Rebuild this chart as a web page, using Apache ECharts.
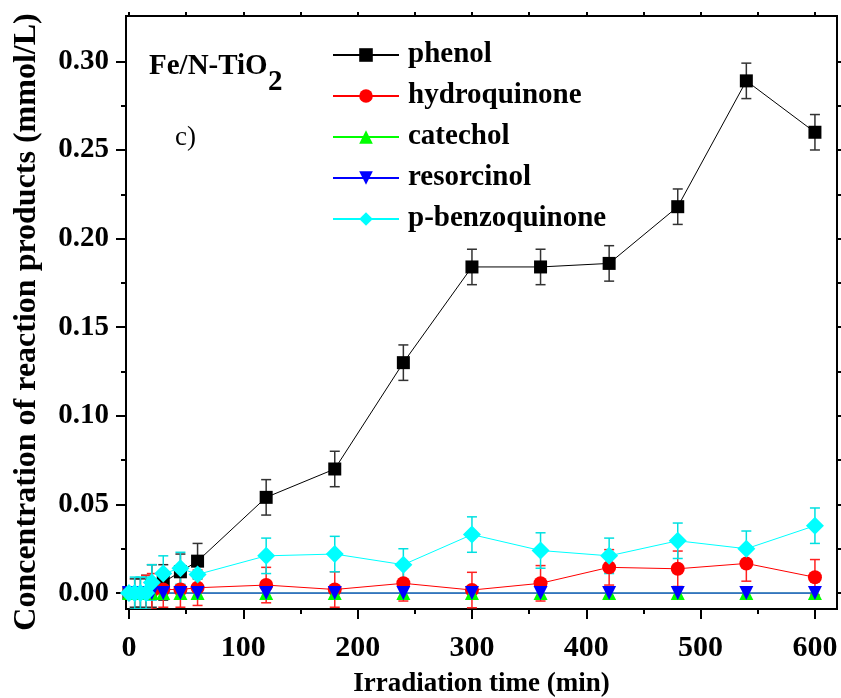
<!DOCTYPE html>
<html>
<head>
<meta charset="utf-8">
<script src="https://cdn.jsdelivr.net/npm/echarts@6/dist/echarts.min.js"></script>
<style>html,body{margin:0;padding:0;background:#fff}#c{width:841px;height:698px}</style>
</head>
<body>
<div id="c"></div>
<script>
// ---- data ----
const times = [0, 5, 10, 15, 20, 30, 45, 60, 120, 180, 240, 300, 360, 420, 480, 540, 600];
const phenol        = [0, 0, 0, 0, 0.004, 0.006, 0.012, 0.018, 0.054, 0.070, 0.130, 0.184, 0.184, 0.186, 0.218, 0.289, 0.260];
const phenolErr     = [0, 0.008, 0.008, 0.010, 0.012, 0.010, 0.010, 0.010, 0.010, 0.010, 0.010, 0.010, 0.010, 0.010, 0.010, 0.010, 0.010];
const hydroquinone  = [0, 0, 0, 0, 0.001, 0.002, 0.002, 0.003, 0.0045, 0.002, 0.0055, 0.0017, 0.0055, 0.0145, 0.0137, 0.0167, 0.0089];
const hydroErr      = [0, 0, 0, 0.010, 0.010, 0.010, 0.010, 0.010, 0.010, 0.010, 0.010, 0.010, 0.010, 0.010, 0.010, 0.010, 0.010];
const catechol      = [0, 0, 0, 0, 0, 0, 0, 0, 0, 0, 0, 0, 0, 0, 0, 0, 0];
const resorcinol    = [0, 0, 0, 0, 0, 0, 0, 0, 0, 0, 0, 0, 0, 0, 0, 0, 0];
const pBenzoquinone = [0, 0, 0, 0, 0.006, 0.011, 0.014, 0.0105, 0.021, 0.022, 0.016, 0.033, 0.024, 0.021, 0.0295, 0.025, 0.038];
const pBenzoErr     = [0, 0.009, 0.009, 0.009, 0.010, 0.010, 0.009, 0.009, 0.010, 0.010, 0.009, 0.010, 0.010, 0.010, 0.010, 0.010, 0.010];
const xTicks = [0, 100, 200, 300, 400, 500, 600];
const xMinorTicks = [50, 150, 250, 350, 450, 550];
const yTicks = [0, 0.05, 0.10, 0.15, 0.20, 0.25, 0.30];
const yMinorTicks = [0.025, 0.075, 0.125, 0.175, 0.225, 0.275];
const seriesNames = ['phenol', 'hydroquinone', 'catechol', 'resorcinol', 'p-benzoquinone'];

const FONT = "'Liberation Serif', 'Times New Roman', serif";
const X_MIN = -2.6, X_MAX = 619.3, Y_MIN = -0.009, Y_MAX = 0.3256;
const xAll = xTicks.concat(xMinorTicks);
const yAll = yTicks.concat(yMinorTicks);

function pairs(vals) { return times.map((t, i) => [t, vals[i]]); }
function triples(vals, errs) { return times.map((t, i) => [t, vals[i], errs[i]]); }

function errorSeries(name, vals, errs, color) {
  return {
    type: 'custom', name: name, xAxisIndex: 0, yAxisIndex: 0, z: 1, clip: true,
    silent: true,
    data: triples(vals, errs),
    encode: { x: 0, y: 1 },
    renderItem: function (params, api) {
      const x = api.value(0), y = api.value(1), e = api.value(2);
      if (!e) return null;
      const top = api.coord([x, y + e]);
      const bot = api.coord([x, y - e]);
      const w = 5;
      const st = { stroke: color, lineWidth: 1.5 };
      return {
        type: 'group',
        children: [
          { type: 'line', shape: { x1: top[0], y1: top[1], x2: bot[0], y2: bot[1] }, style: st },
          { type: 'line', shape: { x1: top[0] - w, y1: top[1], x2: top[0] + w, y2: top[1] }, style: st },
          { type: 'line', shape: { x1: bot[0] - w, y1: bot[1], x2: bot[0] + w, y2: bot[1] }, style: st }
        ]
      };
    }
  };
}

function lineSeries(name, vals, color, symbol, size) {
  return {
    type: 'line', name: name, xAxisIndex: 0, yAxisIndex: 0, z: 3,
    data: pairs(vals),
    symbol: symbol, symbolSize: size, showAllSymbol: true,
    lineStyle: { color: color, width: 1 },
    itemStyle: { color: color },
    emphasis: { disabled: true },
    animation: false
  };
}

function tickAxis(pos, min, max, values, len) {
  return {
    type: 'value', position: pos, min: min, max: max,
    axisLine: { show: false, onZero: false }, splitLine: { show: false },
    axisTick: { show: true, inside: false, length: len, customValues: values, lineStyle: { color: '#000', width: 2 } },
    axisLabel: { show: false }
  };
}

const chart = echarts.init(document.getElementById('c'), null, { renderer: 'canvas' });
const option = {
  animation: false,
  backgroundColor: '#fff',
  grid: { left: 126, right: 4, top: 16, bottom: 89, outerBoundsMode: 'none', containLabel: false,
          show: true, borderColor: '#000', borderWidth: 2, backgroundColor: 'transparent' },
  legend: {
    data: seriesNames, orient: 'vertical', left: 332, top: 40, padding: 0,
    itemWidth: 66, itemHeight: 17, itemGap: 11,
    textStyle: { fontFamily: FONT, fontWeight: 'bold', fontSize: 29, color: '#000', lineHeight: 30, padding: [0, 0, 0, 4] },
    selectedMode: false
  },
  xAxis: [
    {
      type: 'value', position: 'bottom', min: X_MIN, max: X_MAX,
      axisLine: { show: false, onZero: false }, splitLine: { show: false },
      axisTick: { show: true, inside: false, length: 10, customValues: xTicks, lineStyle: { color: '#000', width: 2 } },
      axisLabel: { customValues: xTicks, margin: 24, fontFamily: FONT, fontWeight: 'bold', fontSize: 30, color: '#000' },
      name: 'Irradiation time (min)', nameLocation: 'middle', nameGap: 62,
      nameTextStyle: { fontFamily: FONT, fontWeight: 'bold', fontSize: 27, color: '#000' }
    },
    tickAxis('bottom', X_MIN, X_MAX, xMinorTicks, 5),
    tickAxis('top', X_MIN, X_MAX, xAll, 4)
  ],
  yAxis: [
    {
      type: 'value', position: 'left', min: Y_MIN, max: Y_MAX,
      axisLine: { show: false, onZero: false }, splitLine: { show: false },
      axisTick: { show: true, inside: false, length: 10, customValues: yTicks, lineStyle: { color: '#000', width: 2 } },
      axisLabel: { customValues: yTicks, margin: 17, fontFamily: FONT, fontWeight: 'bold', fontSize: 29, color: '#000',
                   formatter: v => v.toFixed(2) }
    },
    tickAxis('left', Y_MIN, Y_MAX, yMinorTicks, 5),
    tickAxis('right', Y_MIN, Y_MAX, yAll, 4)
  ],
  graphic: [
    { type: 'text', x: 27, y: 322, rotation: Math.PI / 2,
      style: { text: 'Concentration of reaction products (mmol/L)', align: 'center', verticalAlign: 'middle',
               fontFamily: FONT, fontWeight: 'bold', fontSize: 32, fill: '#000' } },
    { type: 'text', left: 149, top: 52, style: { text: 'Fe/N-TiO', fontFamily: FONT, fontWeight: 'bold', fontSize: 29, fill: '#000' } },
    { type: 'text', left: 268, top: 68, style: { text: '2', fontFamily: FONT, fontWeight: 'bold', fontSize: 29, fill: '#000' } },
    { type: 'text', left: 175, top: 124, style: { text: 'c)', fontFamily: FONT, fontSize: 27, fill: '#000' } }
  ],
  series: [
    errorSeries('phenol-err', phenol, phenolErr, '#333333'),
    errorSeries('hydroquinone-err', hydroquinone, hydroErr, '#ff2020'),
    errorSeries('p-benzoquinone-err', pBenzoquinone, pBenzoErr, '#00e0e0'),
    lineSeries('phenol', phenol, '#000000', 'rect', 13),
    lineSeries('hydroquinone', hydroquinone, '#ff0000', 'circle', 14),
    lineSeries('catechol', catechol, '#00ff00', 'triangle', 14),
    lineSeries('resorcinol', resorcinol, '#0000ff', 'path://M0,0 L10,0 L5,9 Z', 14),
    lineSeries('p-benzoquinone', pBenzoquinone, '#00ffff', 'diamond', 18)
  ]
};
chart.setOption(option);
</script>
</body>
</html>
